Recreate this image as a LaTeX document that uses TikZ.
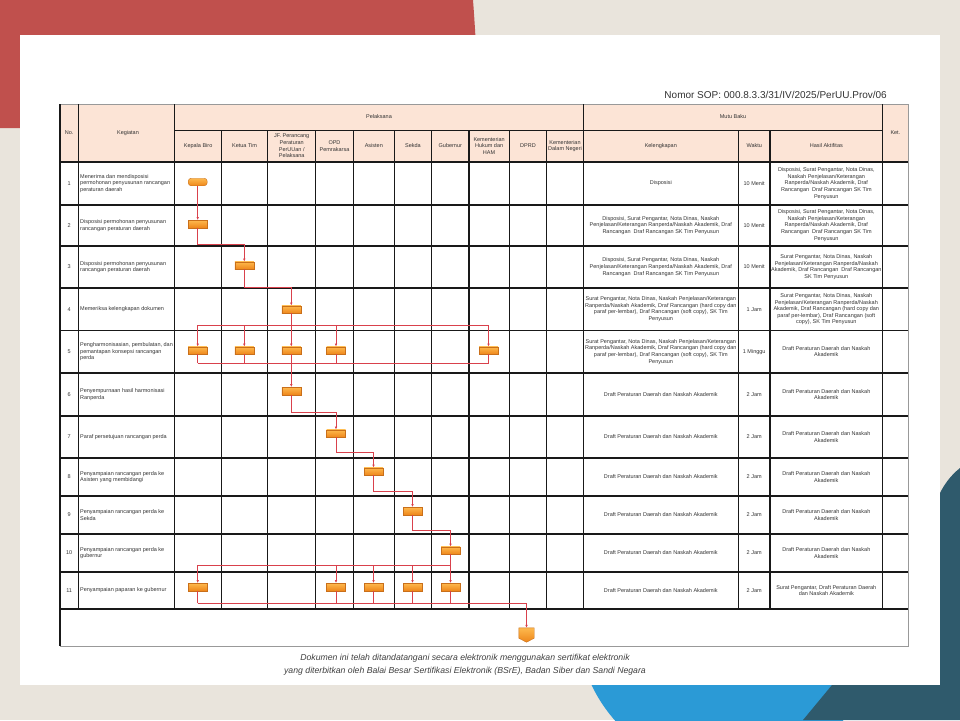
\documentclass[tikz,border=0pt]{standalone}
\usepackage{fontspec}
\setmainfont{Liberation Sans}
\usetikzlibrary{arrows.meta,calc}

\definecolor{bgbeige}{HTML}{E9E4DC}
\definecolor{bgred}{HTML}{C0504D}
\definecolor{bgteal}{HTML}{2F5A6C}
\definecolor{bgblue}{HTML}{2B9AD6}
\definecolor{headfill}{HTML}{FCE4D6}
\definecolor{flowred}{HTML}{D9414C}
\definecolor{boxtop}{HTML}{FDB94E}
\definecolor{boxbot}{HTML}{EE861A}
\definecolor{boxline}{HTML}{C96F1A}
\definecolor{txtgray}{HTML}{333333}

\tikzset{
  cell/.style={font=\fontsize{5.5}{6.6}\selectfont, text=txtgray, inner sep=0pt, align=center},
  keg/.style={cell, anchor=west, align=left},
  grid/.style={draw=black!90, line width=1.2pt},
  rim/.style={draw=black!40, line width=0.8pt},
  actbox/.style={rectangle, minimum width=19pt, minimum height=7.5pt, inner sep=0pt,
    draw=boxline, line width=0.4pt, top color=boxtop, bottom color=boxbot},
  startbox/.style={actbox, rounded corners=3pt},
  offpage/.style={rectangle, minimum width=15pt, minimum height=14pt, inner sep=0pt},
  wire/.style={draw=flowred, line width=0.8pt},
  wirearr/.style={wire, -{Latex[length=3pt,width=2.6pt]}}
}

\begin{document}
\begin{tikzpicture}[x=1pt,y=-1pt]
\useasboundingbox (0,0) rectangle (960,720);

% background
\fill[bgbeige] (0,0) rectangle (960,720);
\fill[bgred] (0,0) -- (473,0) .. controls (476,40) and (478,80) .. (478,128) -- (0,128) -- cycle;
\fill[bgblue] (729,620) circle[radius=152pt];
\fill[bgteal] (960,468) .. controls (950,476) and (944,485) .. (940,493) -- (832,685)
  -- (803,720) -- (960,720) -- cycle;
\fill[white] (20,35) rectangle (940,685);

\node[font=\fontsize{10}{12}\selectfont, text=black!80, anchor=east, inner sep=0pt] (sop) at (887,95) {Nomor SOP: 000.8.3.3/31/IV/2025/PerUU.Prov/06};

% table
\fill[headfill] (60,104) rectangle (908,162);
\draw[rim] (60,104) -- (908,104) -- (908,646) -- (60,646);
\draw[grid] (174.5,130.5) -- (882.7,130.5);
\foreach \y in {162,205,246,288,330.5,373,416,458,496,534,572,609}
  \draw[grid] (60,\y) -- (908,\y);
\draw[grid] (60,104) -- (60,646);
\foreach \x in {78.3,174.5,583.3,882.7}
  \draw[grid] (\x,104) -- (\x,609);
\foreach \x in {221.5,267.7,315.7,353.3,394.3,431.7,469,509.3,546.7,738.3,770}
  \draw[grid] (\x,130.5) -- (\x,609);

\node[cell] (hd-no) at (69.2,133) {No.};
\node[cell] (hd-keg) at (128,133) {Kegiatan};
\node[cell] (hd-pel) at (379,117) {Pelaksana};
\node[cell] (hd-mutu) at (733,117) {Mutu Baku};
\node[cell] (hd-ket) at (895.4,133) {Ket.};
\node[cell] (hd-kb) at (198.1,146) {Kepala Biro};
\node[cell] (hd-kt) at (244.6,146) {Ketua Tim};
\node[cell] (hd-jf) at (291.7,146) {JF. Perancang\\Peraturan\\PerUUan /\\Pelaksana};
\node[cell] (hd-opd) at (334.5,146) {OPD\\Pemrakarsa};
\node[cell] (hd-as) at (373.8,146) {Asisten};
\node[cell] (hd-sk) at (413,146) {Sekda};
\node[cell] (hd-gb) at (450.3,146) {Gubernur};
\node[cell] (hd-kh) at (489.1,146) {Kementerian\\Hukum dan\\HAM};
\node[cell] (hd-dp) at (528,146) {DPRD};
\node[cell] (hd-kd) at (565,146) {Kementerian\\Dalam Negeri};
\node[cell] (hd-kel) at (660.8,146) {Kelengkapan};
\node[cell] (hd-wk) at (754.2,146) {Waktu};
\node[cell] (hd-has) at (826.3,146) {Hasil Aktifitas};

% rows: number and time
\foreach \i/\y/\t in {1/183.5/10 Menit,2/225.5/10 Menit,3/267/10 Menit,4/309.2/1 Jam,
    5/351.7/1 Minggu,6/394.5/2 Jam,7/437/2 Jam,8/477/2 Jam,9/515/2 Jam,10/553/2 Jam,11/590.5/2 Jam}{
  \node[cell] (no-\i) at (69.2,\y) {\i};
  \node[cell] (wk-\i) at (754.2,\y) {\t};
}

\node[keg] (keg-1) at (80,183.5) {Menerima dan mendisposisi\\permohonan penyusunan rancangan\\peraturan daerah};
\node[keg] (keg-2) at (80,225.5) {Disposisi permohonan penyusunan\\rancangan peraturan daerah};
\node[keg] (keg-3) at (80,267) {Disposisi permohonan penyusunan\\rancangan peraturan daerah};
\node[keg] (keg-4) at (80,309.2) {Memeriksa kelengkapan dokumen};
\node[keg] (keg-5) at (80,351.7) {Pengharmonisasian, pembulatan, dan\\pemantapan konsepsi rancangan\\perda};
\node[keg] (keg-6) at (80,394.5) {Penyempurnaan hasil harmonisasi\\Ranperda};
\node[keg] (keg-7) at (80,437) {Paraf persetujuan rancangan perda};
\node[keg] (keg-8) at (80,477) {Penyampaian rancangan perda ke\\Asisten yang membidangi};
\node[keg] (keg-9) at (80,515) {Penyampaian rancangan perda ke\\Sekda};
\node[keg] (keg-10) at (80,553) {Penyampaian rancangan perda ke\\gubernur};
\node[keg] (keg-11) at (80,590.5) {Penyampaian paparan ke gubernur};

\node[cell] (kel-1) at (660.8,183.5) {Disposisi};
\node[cell] (kel-2) at (660.8,225.5) {Disposisi, Surat Pengantar, Nota Dinas, Naskah\\Penjelasan/Keterangan Ranperda/Naskah Akademik, Draf\\Rancangan~ Draf Rancangan SK Tim Penyusun};
\node[cell] (kel-3) at (660.8,267) {Disposisi, Surat Pengantar, Nota Dinas, Naskah\\Penjelasan/Keterangan Ranperda/Naskah Akademik, Draf\\Rancangan~ Draf Rancangan SK Tim Penyusun};
\node[cell] (kel-4) at (660.8,309.2) {Surat Pengantar, Nota Dinas, Naskah Penjelasan/Keterangan\\Ranperda/Naskah Akademik, Draf Rancangan (hard copy dan\\paraf per-lembar), Draf Rancangan (soft copy), SK Tim\\Penyusun};
\node[cell] (kel-5) at (660.8,351.7) {Surat Pengantar, Nota Dinas, Naskah Penjelasan/Keterangan\\Ranperda/Naskah Akademik, Draf Rancangan (hard copy dan\\paraf per-lembar), Draf Rancangan (soft copy), SK Tim\\Penyusun};
\foreach \i/\y in {6/394.5,7/437,8/477,9/515,10/553,11/590.5}
  \node[cell] (kel-\i) at (660.8,\y) {Draft Peraturan Daerah dan Naskah Akademik};

\node[cell] (has-1) at (826.3,183.5) {Disposisi, Surat Pengantar, Nota Dinas,\\Naskah Penjelasan/Keterangan\\Ranperda/Naskah Akademik, Draf\\Rancangan~ Draf Rancangan SK Tim\\Penyusun};
\node[cell] (has-2) at (826.3,225.5) {Disposisi, Surat Pengantar, Nota Dinas,\\Naskah Penjelasan/Keterangan\\Ranperda/Naskah Akademik, Draf\\Rancangan~ Draf Rancangan SK Tim\\Penyusun};
\node[cell] (has-3) at (826.3,267) {Surat Pengantar, Nota Dinas, Naskah\\Penjelasan/Keterangan Ranperda/Naskah\\Akademik, Draf Rancangan~ Draf Rancangan\\SK Tim Penyusun};
\node[cell] (has-4) at (826.3,309.2) {Surat Pengantar, Nota Dinas, Naskah\\Penjelasan/Keterangan Ranperda/Naskah\\Akademik, Draf Rancangan (hard copy dan\\paraf per-lembar), Draf Rancangan (soft\\copy), SK Tim Penyusun};
\foreach \i/\y in {5/351.7,6/394.5,7/437,8/477,9/515,10/553}
  \node[cell] (has-\i) at (826.3,\y) {Draft Peraturan Daerah dan Naskah\\Akademik};
\node[cell] (has-11) at (826.3,590.5) {Surat Pengantar, Draft Peraturan Daerah\\dan Naskah Akademik};

% flow boxes
\node[startbox] (b1) at (197.7,182) {};
\node[actbox] (b2) at (197.7,224) {};
\node[actbox] (b3) at (244.3,265.5) {};
\node[actbox] (b4) at (291.3,309.5) {};
\node[actbox] (h1) at (197.7,350.5) {};
\node[actbox] (h2) at (244.3,350.5) {};
\node[actbox] (h3) at (291.3,350.5) {};
\node[actbox] (h4) at (336,350.5) {};
\node[actbox] (h5) at (488.5,350.5) {};
\node[actbox] (b6) at (291.3,391) {};
\node[actbox] (b7) at (336,433.5) {};
\node[actbox] (b8) at (373.5,471.5) {};
\node[actbox] (b9) at (412.5,511) {};
\node[actbox] (b10) at (450.5,550.5) {};
\node[actbox] (p1) at (197.7,587) {};
\node[actbox] (p2) at (336,587) {};
\node[actbox] (p3) at (373.5,587) {};
\node[actbox] (p4) at (412.5,587) {};
\node[actbox] (p5) at (450.5,587) {};
\node[offpage] (end) at (526.5,635) {};
\shade[top color=boxtop, bottom color=boxbot, draw=boxline, line width=0.4pt]
  (end.north west) -- (end.north east) -- ([yshift=4pt]end.south east) -- (end.south)
  -- ([yshift=4pt]end.south west) -- cycle;

\coordinate (h-top) at (0,325);
\coordinate (h-bot) at (0,363);
\coordinate (p-top) at (0,565);
\coordinate (p-bot) at (0,603);

% connectors
\draw[wirearr] (b1) -- (b2);
\draw[wirearr] (b2) |- ($(b2.south)!.5!(b3.north)$) -| (b3);
\draw[wirearr] (b3) |- ($(b3.south)!.5!(b4.north)$) -| (b4);
\draw[wire] (b4) -- (b4 |- h-top);
\draw[wire] (h1 |- h-top) -- (h5 |- h-top);
\draw[wire] (h1 |- h-bot) -- (h5 |- h-bot);
\foreach \n in {h1,h2,h3,h4,h5}{
  \draw[wirearr] (\n |- h-top) -- (\n);
  \draw[wire] (\n) -- (\n |- h-bot);
}
\draw[wirearr] (h3 |- h-bot) -- (b6);
\draw[wirearr] (b6) |- ($(b6.south)!.5!(b7.north)$) -| (b7);
\draw[wirearr] (b7) |- ($(b7.south)!.5!(b8.north)$) -| (b8);
\draw[wirearr] (b8) |- ($(b8.south)!.5!(b9.north)$) -| (b9);
\draw[wirearr] (b9) |- ($(b9.south)!.5!(b10.north)$) -| (b10);
\draw[wire] (b10) -- (b10 |- p-top);
\draw[wire] (p1 |- p-top) -- (p5 |- p-top);
\foreach \n in {p1,p2,p3,p4,p5}{
  \draw[wirearr] (\n |- p-top) -- (\n);
  \draw[wire] (\n) -- (\n |- p-bot);
}
\draw[wire] (p1 |- p-bot) -- (end |- p-bot);
\draw[wirearr] (end |- p-bot) -- (end);

% footer
\node[font=\fontsize{8.7}{13}\selectfont\itshape, text=black!75, align=center, inner sep=0pt] (sign) at (465,664.5)
  {Dokumen ini telah ditandatangani secara elektronik menggunakan sertifikat elektronik\\
   yang diterbitkan oleh Balai Besar Sertifikasi Elektronik (BSrE), Badan Siber dan Sandi Negara};
\end{tikzpicture}
\end{document}
